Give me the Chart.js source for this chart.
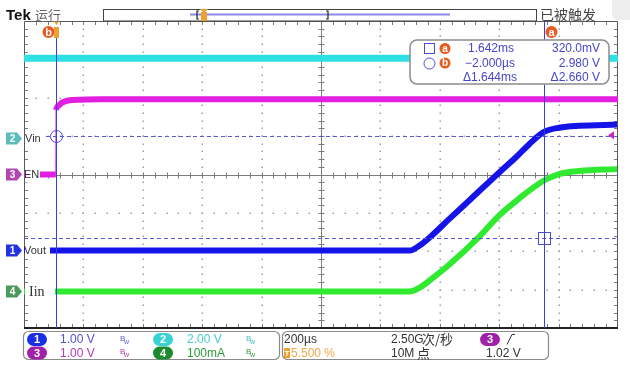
<!DOCTYPE html>
<html>
<head>
<meta charset="utf-8">
<script src="https://cdn.jsdelivr.net/npm/chart.js@4/dist/chart.umd.min.js"></script>
<style>
  html, body { margin: 0; padding: 0; background: #fff; overflow: hidden; }
  canvas { display: block; }
</style>
</head>
<body>
<canvas id="scope" width="630" height="367"></canvas>
<script>
// Horizontal: 200 µs/div over 10 divisions, trigger at 5.5 % of the record (ms)
const timeRange = [-0.11, 1.89];
const timePerDiv = 0.2;

// Channel settings: units per division and ground position in divisions
const ch1Vout = { scale: 1.0, offset: -1.98 };  // V
const ch2Vin  = { scale: 2.0, offset: 0.94 };   // V
const ch3En   = { scale: 1.0, offset: 0.0 };    // V
const ch4Iin  = { scale: 100, offset: -3.05 };  // mA

// Ch2 Vin (V)
const vinTime  = [-0.11, 1.89];
const vinVolts = [4.18, 4.18];

// Ch3 EN (V)
const enTime  = [-0.11, -0.003, -0.002, 0.005, 0.015, 0.03, 0.05, 0.08, 0.15, 1.89];
const enVolts = [0, 0, 1.68, 1.78, 1.86, 1.91, 1.94, 1.95, 1.96, 1.96];

// Ch1 Vout (V)
const voutTime  = [-0.11, 1.189, 1.222, 1.256, 1.323, 1.39, 1.491, 1.541, 1.591, 1.638, 1.692, 1.759, 1.887];
const voutVolts = [0, 0, 0.13, 0.34, 0.83, 1.31, 2.04, 2.39, 2.77, 3.08, 3.2, 3.25, 3.28];

// Ch4 Iin (mA)
const iinTime = [-0.11, 1.189, 1.222, 1.256, 1.323, 1.424, 1.491, 1.558, 1.638, 1.692, 1.759, 1.887];
const iinMilliamps = [0, 0, 10, 29, 71, 144, 199, 243, 288, 306, 314, 319];

// Cursors (measured on Ch1) and trigger level (Ch3)
const cursorA = { t: 1.642, v: 0.320 };
const cursorB = { t: -0.002, v: 2.980 };
const triggerLevel = 1.02;

// Readout texts
const readoutRows = [
  ['1.642ms', '320.0mV'],
  ['\u22122.000\u00b5s', '2.980 V'],
  ['\u0394' + '1.644ms', '\u0394' + '2.660 V']
];

const pairs = (xs, ys) => xs.map((x, i) => ({ x, y: ys[i] }));
const axisFor = ch => ({
  type: 'linear', axis: 'y', position: 'left', display: false,
  min: (-4 - ch.offset) * ch.scale,
  max: (4 - ch.offset) * ch.scale
});

const SANS = '"Liberation Sans", "Noto Sans CJK SC", sans-serif';
const CJK = '"Noto Sans CJK SC", sans-serif';
const ORANGE = '#ea5a1e';
const CURSOR = '#3c3cdc';

function roundRect(ctx, x, y, w, h, r) {
  ctx.beginPath();
  ctx.moveTo(x + r, y);
  ctx.arcTo(x + w, y, x + w, y + h, r);
  ctx.arcTo(x + w, y + h, x, y + h, r);
  ctx.arcTo(x, y + h, x, y, r);
  ctx.arcTo(x, y, x + w, y, r);
  ctx.closePath();
}

function badge(ctx, cx, cy, r, ch) {
  ctx.fillStyle = ORANGE;
  ctx.beginPath(); ctx.arc(cx, cy, r, 0, Math.PI * 2); ctx.fill();
  ctx.fillStyle = '#fff';
  ctx.font = 'bold ' + Math.round(r * 1.8) + 'px ' + SANS;
  ctx.textAlign = 'center'; ctx.textBaseline = 'middle';
  ctx.fillText(ch, cx, cy + 0.5);
}

function channelTag(ctx, x, y, color, num) {
  // flag with a pointed right end
  ctx.fillStyle = color;
  ctx.beginPath();
  ctx.moveTo(x, y - 6); ctx.lineTo(x + 11, y - 6); ctx.lineTo(x + 16, y);
  ctx.lineTo(x + 11, y + 6); ctx.lineTo(x, y + 6); ctx.closePath(); ctx.fill();
  ctx.fillStyle = '#fff';
  ctx.font = 'bold 10px ' + SANS;
  ctx.textAlign = 'center'; ctx.textBaseline = 'middle';
  ctx.fillText(num, x + 6.5, y + 0.5);
}

function pill(ctx, x, y, w, color, num) {
  ctx.fillStyle = color;
  roundRect(ctx, x, y - 6.5, w, 13, 6.5); ctx.fill();
  ctx.fillStyle = '#fff';
  ctx.font = 'bold 11px ' + SANS;
  ctx.textAlign = 'center'; ctx.textBaseline = 'middle';
  ctx.fillText(num, x + w / 2, y + 0.5);
}

function bwIcon(ctx, x, y, color) {
  ctx.fillStyle = color;
  ctx.textAlign = 'left'; ctx.textBaseline = 'alphabetic';
  ctx.font = '8px ' + SANS;
  ctx.fillText('B', x, y);
  ctx.font = '7px ' + SANS;
  ctx.fillText('w', x + 4, y + 3);
}

const scopeDecor = {
  id: 'scopeDecor',
  beforeDatasetsDraw(chart) {
    const { ctx, chartArea: a, scales } = chart;
    const xs = scales.x, gs = scales.grid;
    const minorT = timePerDiv / 5;
    ctx.save();

    // dotted graticule
    ctx.fillStyle = '#a0a0a0';
    for (let k = 1; k < 10; k++) {
      if (k === 5) continue;
      const px = Math.round(xs.getPixelForValue(timeRange[0] + k * timePerDiv));
      for (let m = -19; m <= 19; m++) {
        const py = Math.round(gs.getPixelForValue(m / 5));
        ctx.fillRect(px - 0.5, py - 0.5, 1.5, 1.5);
      }
    }
    for (let d = -3; d <= 3; d++) {
      if (d === 0) continue;
      const py = Math.round(gs.getPixelForValue(d));
      for (let m = 1; m < 50; m++) {
        const px = Math.round(xs.getPixelForValue(timeRange[0] + m * minorT));
        ctx.fillRect(px - 0.5, py - 0.5, 1.5, 1.5);
      }
    }

    // centre cross with minor ticks
    const cx = Math.round(xs.getPixelForValue(timeRange[0] + 5 * timePerDiv)) + 0.5;
    const cy = Math.round(gs.getPixelForValue(0)) + 0.5;
    ctx.strokeStyle = '#7a7a7a';
    ctx.lineWidth = 1;
    ctx.beginPath();
    ctx.moveTo(a.left, cy); ctx.lineTo(a.right, cy);
    ctx.moveTo(cx, a.top); ctx.lineTo(cx, a.bottom);
    for (let m = 1; m < 50; m++) {
      const px = Math.round(xs.getPixelForValue(timeRange[0] + m * minorT)) + 0.5;
      ctx.moveTo(px, cy - 3); ctx.lineTo(px, cy + 3);
      // ticks on the top and bottom frame
      ctx.moveTo(px, a.top); ctx.lineTo(px, a.top + 4);
      ctx.moveTo(px, a.bottom); ctx.lineTo(px, a.bottom - 4);
    }
    for (let m = -19; m <= 19; m++) {
      const py = Math.round(gs.getPixelForValue(m / 5)) + 0.5;
      ctx.moveTo(cx - 3, py); ctx.lineTo(cx + 3, py);
      ctx.moveTo(a.left, py); ctx.lineTo(a.left + 4, py);
      ctx.moveTo(a.right, py); ctx.lineTo(a.right - 4, py);
    }
    ctx.stroke();

    // frame
    ctx.strokeStyle = '#5a5a5a';
    ctx.beginPath();
    ctx.moveTo(a.left + 0.5, a.bottom); ctx.lineTo(a.left + 0.5, a.top + 0.5);
    ctx.lineTo(a.right - 0.5, a.top + 0.5); ctx.lineTo(a.right - 0.5, a.bottom);
    ctx.stroke();
    ctx.strokeStyle = '#222';
    ctx.lineWidth = 2;
    ctx.beginPath();
    ctx.moveTo(a.left, a.bottom); ctx.lineTo(a.right, a.bottom);
    ctx.stroke();
    ctx.restore();
  },
  afterDatasetsDraw(chart) {
    const { ctx, chartArea: a, scales } = chart;
    const xs = scales.x, yv = scales.yVout;
    ctx.save();

    // channel labels over the left end of each trace
    const label = (txt, scale, x, wBg, font) => {
      const py = scales[scale].getPixelForValue(0);
      ctx.fillStyle = '#fff';
      ctx.fillRect(a.left + 1, py - 8, wBg, 16);
      ctx.fillStyle = '#333';
      ctx.font = font;
      ctx.textAlign = 'left'; ctx.textBaseline = 'middle';
      ctx.fillText(txt, x, py + 0.5);
    };
    label('Vin', 'yVin', 25, 21, '11px ' + SANS);
    label('EN', 'yEn', 24, 15, '11px ' + SANS);
    label('Vout', 'yVout', 24, 25, '11px ' + SANS);
    label('Iin', 'yIin', 29, 30, '14px "Liberation Serif", serif');

    // horizontal cursors
    ctx.strokeStyle = '#5858d8';
    ctx.lineWidth = 1;
    ctx.setLineDash([4, 3]);
    const yb = Math.round(yv.getPixelForValue(cursorB.v)) + 0.5;
    const ya = Math.round(yv.getPixelForValue(cursorA.v)) + 0.5;
    ctx.beginPath();
    ctx.moveTo(a.left + 22, yb); ctx.lineTo(a.right, yb);
    ctx.moveTo(a.left, ya); ctx.lineTo(a.right, ya);
    ctx.stroke();
    ctx.setLineDash([]);

    // vertical cursors
    const xb = Math.round(xs.getPixelForValue(cursorB.t)) + 0.5;
    const xa = Math.round(xs.getPixelForValue(cursorA.t)) + 0.5;
    ctx.strokeStyle = CURSOR;
    ctx.beginPath();
    ctx.moveTo(xb, a.top + 14); ctx.lineTo(xb, a.bottom);
    ctx.moveTo(xa, a.top); ctx.lineTo(xa, a.bottom);
    ctx.stroke();
    ctx.strokeStyle = '#4a4ad8';
    ctx.beginPath(); ctx.arc(xb, yb, 6, 0, Math.PI * 2); ctx.stroke();
    ctx.strokeRect(xa - 6, ya - 6, 12, 12);

    // trigger level arrow on the right edge
    const yt = scales.yEn.getPixelForValue(triggerLevel);
    ctx.fillStyle = '#c828c0';
    ctx.beginPath();
    ctx.moveTo(a.right - 10, yt); ctx.lineTo(a.right - 4, yt - 4); ctx.lineTo(a.right - 4, yt + 4);
    ctx.closePath(); ctx.fill();

    // cursor badges
    badge(ctx, xb - 8, a.top + 11, 6, 'b');
    ctx.fillStyle = '#f0a030';
    ctx.fillRect(xb - 2.5, a.top + 6, 5, 11);
    ctx.beginPath();
    ctx.moveTo(xb - 3, a.top); ctx.lineTo(xb + 3, a.top); ctx.lineTo(xb, a.top + 4);
    ctx.closePath(); ctx.fill();
    badge(ctx, xa + 7, a.top + 11, 6, 'a');

    // cursor readout
    const bx = 410, by = 40, bw = 199, bh = 44;
    roundRect(ctx, bx, by, bw, bh, 7);
    ctx.fillStyle = '#fff'; ctx.fill();
    ctx.strokeStyle = '#8c8c8c'; ctx.lineWidth = 1.5; ctx.stroke();
    ctx.lineWidth = 1;
    ctx.strokeStyle = '#4a4ad8';
    ctx.strokeRect(424.5, 43.5, 10, 10);
    ctx.beginPath(); ctx.arc(429.5, 63.5, 5.5, 0, Math.PI * 2); ctx.stroke();
    badge(ctx, 445, 48.5, 5.5, 'a');
    badge(ctx, 445, 63, 5.5, 'b');
    ctx.fillStyle = '#4646c8';
    ctx.font = '12px ' + SANS;
    ctx.textBaseline = 'middle';
    const rowY = [49, 63.5, 78];
    readoutRows.forEach((r, i) => {
      ctx.textAlign = 'left';
      ctx.fillText(r[0], i === 0 ? 468 : (i === 1 ? 465 : 463), rowY[i]);
      ctx.textAlign = 'right';
      ctx.fillText(r[1], 600, rowY[i]);
    });

    ctx.restore();
  },
  afterDraw(chart) {
    const { ctx, scales } = chart;
    ctx.save();

    // header
    ctx.fillStyle = '#111';
    ctx.font = 'bold 15px ' + SANS;
    ctx.textAlign = 'left'; ctx.textBaseline = 'alphabetic';
    ctx.fillText('Tek', 6, 20);
    ctx.fillStyle = '#666';
    ctx.font = '13px ' + CJK;
    ctx.fillText('运行', 35, 20);
    ctx.fillStyle = '#444';
    ctx.font = '14px ' + CJK;
    ctx.fillText('已被触发', 540, 20);

    // top-right corner panel
    ctx.fillStyle = '#ededed';
    roundRect(ctx, 612, -6, 30, 26, 5); ctx.fill();

    // record bar
    ctx.fillStyle = '#fff';
    ctx.fillRect(103, 9, 434, 12);
    ctx.strokeStyle = '#444'; ctx.lineWidth = 1;
    ctx.strokeRect(103.5, 9.5, 433, 11.5);
    ctx.strokeStyle = '#8a8ae8'; ctx.lineWidth = 2;
    ctx.beginPath(); ctx.moveTo(190, 14.5); ctx.lineTo(450, 14.5); ctx.stroke();
    ctx.strokeStyle = '#222'; ctx.lineWidth = 1.2;
    ctx.beginPath();
    ctx.moveTo(199, 11); ctx.lineTo(197, 11); ctx.lineTo(197, 19); ctx.lineTo(199, 19);
    ctx.moveTo(326, 11); ctx.lineTo(328, 11); ctx.lineTo(328, 19); ctx.lineTo(326, 19);
    ctx.stroke();
    ctx.fillStyle = '#f0a030';
    ctx.fillRect(201, 12, 6, 9);
    ctx.beginPath(); ctx.moveTo(200, 9); ctx.lineTo(208, 9); ctx.lineTo(204, 13); ctx.closePath(); ctx.fill();

    // channel ground markers
    channelTag(ctx, 6, scales.yVin.getPixelForValue(0), '#5cbcbc', '2');
    channelTag(ctx, 6, scales.yEn.getPixelForValue(0), '#b048b0', '3');
    channelTag(ctx, 6, scales.yVout.getPixelForValue(0), '#2232e4', '1');
    channelTag(ctx, 6, scales.yIin.getPixelForValue(0), '#4a9a5a', '4');

    // status boxes
    ctx.strokeStyle = '#8a8a8a'; ctx.lineWidth = 1.2;
    roundRect(ctx, 23.5, 331.5, 256, 28, 5); ctx.stroke();
    roundRect(ctx, 282.5, 331.5, 266, 28, 5); ctx.stroke();

    const r1 = 339.5, r2 = 353;
    pill(ctx, 27, r1, 20, '#1a2ee6', '1');
    pill(ctx, 153, r1, 20, '#38d4d4', '2');
    pill(ctx, 27, r2, 20, '#a020a8', '3');
    pill(ctx, 153, r2, 20, '#1c8a30', '4');
    ctx.font = '12px ' + SANS;
    ctx.textAlign = 'left'; ctx.textBaseline = 'middle';
    ctx.fillStyle = '#5050dc'; ctx.fillText('1.00 V', 60, r1 + 0.5);
    ctx.fillStyle = '#40cccc'; ctx.fillText('2.00 V', 187, r1 + 0.5);
    ctx.fillStyle = '#b838b8'; ctx.fillText('1.00 V', 60, r2 + 0.5);
    ctx.fillStyle = '#2a9a3a'; ctx.fillText('100mA', 187, r2 + 0.5);
    bwIcon(ctx, 120, r1 + 1, '#6060d8');
    bwIcon(ctx, 246, r1 + 1, '#40c0c0');
    bwIcon(ctx, 120, r2 + 1, '#b040b0');
    bwIcon(ctx, 246, r2 + 1, '#3a9a3a');

    ctx.font = '12px ' + SANS;
    ctx.textAlign = 'left'; ctx.textBaseline = 'middle';
    ctx.fillStyle = '#333';
    ctx.fillText('200\u00b5s', 284, r1 + 0.5);
    ctx.fillText('2.50G', 391, r1 + 0.5);
    ctx.fillText('10M', 391, r2 + 0.5);
    ctx.fillText('1.02 V', 486, r2 + 0.5);
    ctx.font = '13px ' + CJK;
    ctx.fillText('次/秒', 422, r1);
    ctx.fillText('点', 417, r2);
    pill(ctx, 480, r1, 20, '#a020a8', '3');
    ctx.strokeStyle = '#333'; ctx.lineWidth = 1;
    ctx.beginPath(); ctx.moveTo(507, r1 + 5); ctx.lineTo(512, r1 - 5); ctx.lineTo(515, r1 - 5); ctx.stroke();
    ctx.fillStyle = '#f0a030';
    ctx.fillRect(284, r2 - 5, 6, 10);
    ctx.fillStyle = '#fff';
    ctx.font = 'bold 8px ' + SANS; ctx.textAlign = 'center';
    ctx.fillText('T', 287, r2 + 0.5);
    ctx.fillStyle = '#f0a848';
    ctx.font = '12px ' + SANS; ctx.textAlign = 'left';
    ctx.fillText('5.500 %', 291, r2 + 0.5);

    ctx.restore();
  }
};

new Chart(document.getElementById('scope'), {
  type: 'line',
  data: {
    datasets: [
      { label: 'Vout', data: pairs(voutTime, voutVolts), yAxisID: 'yVout',
        borderColor: '#1414e8', borderWidth: 6, cubicInterpolationMode: 'monotone' },
      { label: 'Iin', data: pairs(iinTime, iinMilliamps), yAxisID: 'yIin',
        borderColor: '#30ea30', borderWidth: 6, cubicInterpolationMode: 'monotone' },
      { label: 'EN', data: pairs(enTime, enVolts), yAxisID: 'yEn',
        borderColor: '#e21ee0', borderWidth: 6, cubicInterpolationMode: 'monotone',
        // the fast enable edge shows as a thin stroke
        segment: { borderWidth: s => (s.p1.parsed.y - s.p0.parsed.y > 1 ? 1 : 6) } },
      { label: 'Vin', data: pairs(vinTime, vinVolts), yAxisID: 'yVin',
        borderColor: '#2ee0e4', borderWidth: 7, tension: 0 }
    ]
  },
  options: {
    responsive: false,
    animation: false,
    devicePixelRatio: 1,
    layout: { padding: { left: 24, right: 12, top: 21, bottom: 39 } },
    plugins: { legend: { display: false }, tooltip: { enabled: false } },
    elements: { point: { radius: 0 }, line: { borderCapStyle: 'butt', fill: false } },
    scales: {
      x: { type: 'linear', display: false, min: timeRange[0], max: timeRange[1] },
      grid: { type: 'linear', axis: 'y', position: 'left', display: false, min: -4, max: 4 },
      yVout: axisFor(ch1Vout),
      yVin: axisFor(ch2Vin),
      yEn: axisFor(ch3En),
      yIin: axisFor(ch4Iin)
    }
  },
  plugins: [scopeDecor]
});
</script>
</body>
</html>
